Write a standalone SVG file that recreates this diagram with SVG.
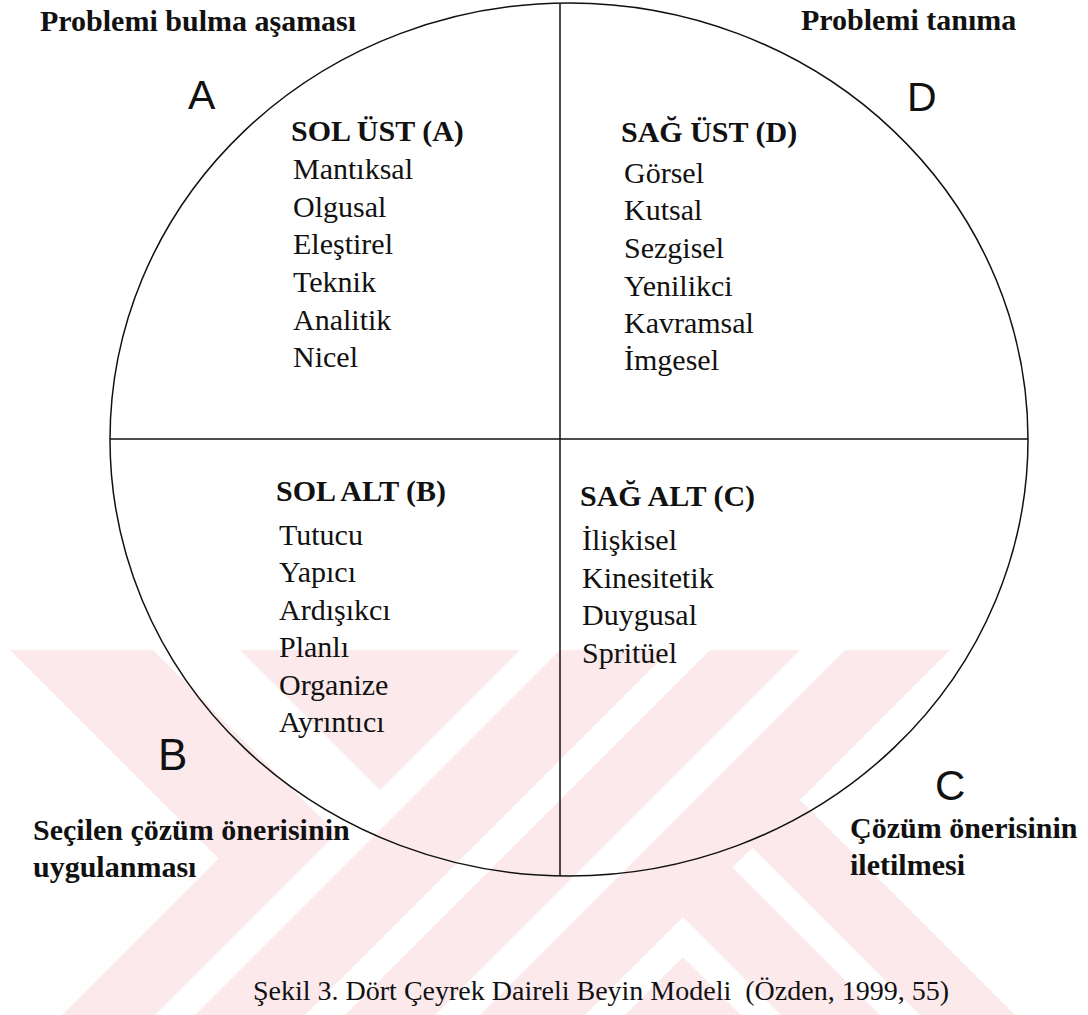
<svg xmlns="http://www.w3.org/2000/svg" width="1088" height="1015" viewBox="0 0 1088 1015">
<style>
.bold{font-family:"Liberation Serif","Times New Roman",serif;font-weight:bold;font-size:30px;fill:#111}
.item{font-family:"Liberation Serif","Times New Roman",serif;font-size:30px;fill:#111}
.big{font-family:"Liberation Sans",Arial,sans-serif;fill:#111}
.cap{font-family:"Liberation Serif","Times New Roman",serif;font-size:28px;fill:#111}
.wm{fill:#fce9ec}
.wh{fill:#ffffff}
.ln{stroke:#111;stroke-width:1.5;fill:none}
</style>
<defs>
<clipPath id="wmclip"><rect x="0" y="650" width="1088" height="365"/></clipPath>
</defs>
<rect x="0" y="0" width="1088" height="1015" fill="#ffffff"/>
<g id="watermark" clip-path="url(#wmclip)">
<rect class="wm" x="0" y="650" width="1088" height="365"/>
<polygon class="wh" points="-10,640 0,640 218.5,858.5 0,1077 -10,1077"/>
<polygon class="wh" points="143,640 230,640 380,790 336.5,833.5"/>
<polygon class="wh" points="530,640 570,640 190,1020 150,1020"/>
<polygon class="wh" points="680,640 720,640 340,1020 300,1020"/>
<polygon class="wh" points="810,640 855,640 475,1020 430,1020"/>
<polygon class="wh" points="960,640 1100,640 1100,1100 800,800"/>
<polygon class="wh" points="752.5,847.5 925,1020 885,1020 732.5,867.5"/>
<polygon class="wh" points="683,917 786,1020 746,1020 683,957 620,1020 580,1020"/>
</g>
<g id="circle">
<ellipse class="ln" cx="569" cy="439.5" rx="459" ry="436.5"/>
</g>
<g id="connectors">
<line class="ln" x1="110" y1="439" x2="1028" y2="439"/>
<line class="ln" x1="560" y1="4" x2="560" y2="876"/>
</g>
<g id="phase-A"><text class="bold" x="40" y="31">Problemi bulma aşaması</text></g>
<g id="phase-D"><text class="bold" x="801" y="30">Problemi tanıma</text></g>
<g id="phase-B"><text class="bold" x="33" y="840">Seçilen çözüm önerisinin</text><text class="bold" x="33" y="877">uygulanması</text></g>
<g id="phase-C"><text class="bold" x="850" y="838">Çözüm önerisinin</text><text class="bold" x="850" y="875">iletilmesi</text></g>
<g id="label-A"><text class="big" x="188" y="109" font-size="41">A</text></g>
<g id="label-D"><text class="big" x="907" y="111" font-size="41">D</text></g>
<g id="label-B"><text class="big" x="158" y="770" font-size="44">B</text></g>
<g id="label-C"><text class="big" x="935" y="800" font-size="42">C</text></g>
<g id="q-sol-ust">
<text class="bold" x="291" y="141">SOL ÜST (A)</text>
<text class="item" x="293" y="179">Mantıksal</text>
<text class="item" x="293" y="217">Olgusal</text>
<text class="item" x="293" y="254">Eleştirel</text>
<text class="item" x="293" y="292">Teknik</text>
<text class="item" x="293" y="330">Analitik</text>
<text class="item" x="293" y="367">Nicel</text>
</g>
<g id="q-sag-ust">
<text class="bold" x="621" y="142">SAĞ ÜST (D)</text>
<text class="item" x="624" y="183">Görsel</text>
<text class="item" x="624" y="220">Kutsal</text>
<text class="item" x="624" y="258">Sezgisel</text>
<text class="item" x="624" y="296">Yenilikci</text>
<text class="item" x="624" y="333">Kavramsal</text>
<text class="item" x="624" y="370">İmgesel</text>
</g>
<g id="q-sol-alt">
<text class="bold" x="276" y="501">SOL ALT (B)</text>
<text class="item" x="279" y="545">Tutucu</text>
<text class="item" x="279" y="582">Yapıcı</text>
<text class="item" x="279" y="620">Ardışıkcı</text>
<text class="item" x="279" y="657">Planlı</text>
<text class="item" x="279" y="695">Organize</text>
<text class="item" x="279" y="732">Ayrıntıcı</text>
</g>
<g id="q-sag-alt">
<text class="bold" x="580" y="506">SAĞ ALT (C)</text>
<text class="item" x="582" y="550">İlişkisel</text>
<text class="item" x="582" y="588">Kinesitetik</text>
<text class="item" x="582" y="625">Duygusal</text>
<text class="item" x="582" y="663">Spritüel</text>
</g>
<g id="caption"><text class="cap" x="253" y="1000" xml:space="preserve">Şekil 3. Dört Çeyrek Daireli Beyin Modeli  (Özden, 1999, 55)</text></g>
</svg>
